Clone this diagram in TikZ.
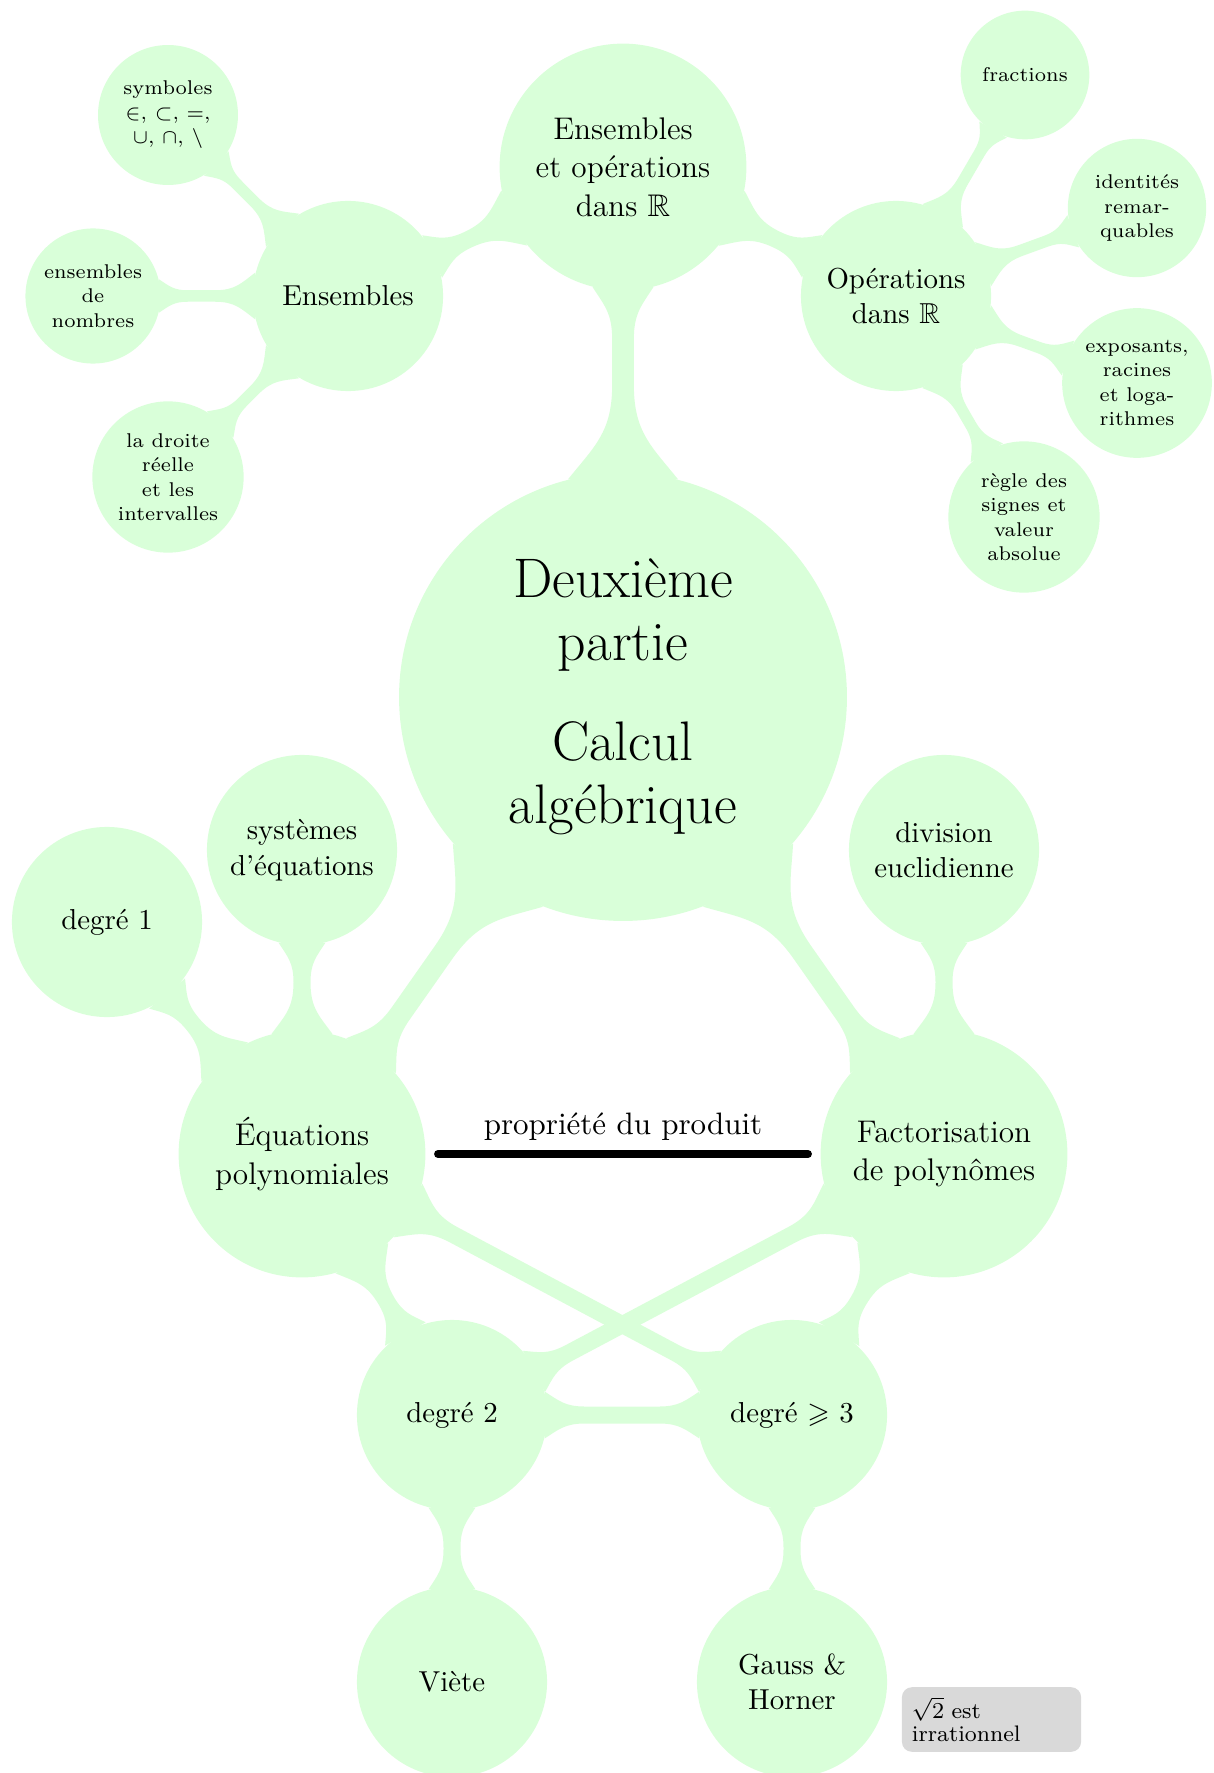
\documentclass[tikz,border=0pt]{standalone}
\usepackage{amssymb}
\usetikzlibrary{calc,backgrounds}
\makeatletter
% connection bar between two circular nodes; optional arg = bar width in px
\newcommand\mmlink[3][17]{%
  \pgfpointdiff{\pgfpointanchor{#2}{center}}{\pgfpointanchor{#3}{center}}%
  \pgfmathsetmacro\mmD{veclen(\the\pgf@x,\the\pgf@y)}%
  \pgfpointdiff{\pgfpointanchor{#2}{center}}{\pgfpointanchor{#2}{east}}%
  \pgfmathsetmacro\mmrA{\the\pgf@x}%
  \pgfpointdiff{\pgfpointanchor{#3}{center}}{\pgfpointanchor{#3}{east}}%
  \pgfmathsetmacro\mmrB{\the\pgf@x}%
  \pgfmathsetmacro\mmh{#1*0.35161/2}%
  \pgfmathsetmacro\mmoA{0.245*\mmrA}%
  \pgfmathsetmacro\mmoB{0.245*\mmrB}%
  \pgfmathsetmacro\mmsA{sqrt(\mmrA*\mmrA-\mmoA*\mmoA)}%
  \pgfmathsetmacro\mmsB{\mmD-sqrt(\mmrB*\mmrB-\mmoB*\mmoB)}%
  \pgfmathsetmacro\mmgap{\mmsB-\mmsA}%
  \pgfmathsetmacro\mmLA{min(0.42*\mmrA,\mmgap*\mmrA/(\mmrA+\mmrB))}%
  \pgfmathsetmacro\mmLB{min(0.42*\mmrB,\mmgap*\mmrB/(\mmrA+\mmrB))}%
  \pgfmathsetmacro\mmcAs{\mmsA+0.35*\mmLA}%
  \pgfmathsetmacro\mmdAs{\mmsA+0.5*\mmLA}%
  \pgfmathsetmacro\mmqAs{\mmsA+\mmLA}%
  \pgfmathsetmacro\mmcAo{\mmoA-0.6*(\mmoA-\mmh)}%
  \pgfmathsetmacro\mmcBs{\mmsB-0.35*\mmLB}%
  \pgfmathsetmacro\mmdBs{\mmsB-0.5*\mmLB}%
  \pgfmathsetmacro\mmqBs{\mmsB-\mmLB}%
  \pgfmathsetmacro\mmcBo{\mmoB-0.6*(\mmoB-\mmh)}%
  \fill[linkfill]
    ($(#2.center)!\mmsA pt!(#3.center)!\mmoA pt!90:(#3.center)$)
    .. controls ($(#2.center)!\mmcAs pt!(#3.center)!\mmcAo pt!90:(#3.center)$)
    and ($(#2.center)!\mmdAs pt!(#3.center)!\mmh pt!90:(#3.center)$)
    .. ($(#2.center)!\mmqAs pt!(#3.center)!\mmh pt!90:(#3.center)$)
    -- ($(#2.center)!\mmqBs pt!(#3.center)!\mmh pt!90:(#3.center)$)
    .. controls ($(#2.center)!\mmdBs pt!(#3.center)!\mmh pt!90:(#3.center)$)
    and ($(#2.center)!\mmcBs pt!(#3.center)!\mmcBo pt!90:(#3.center)$)
    .. ($(#2.center)!\mmsB pt!(#3.center)!\mmoB pt!90:(#3.center)$)
    -- ($(#2.center)!\mmsB pt!(#3.center)!\mmoB pt!-90:(#3.center)$)
    .. controls ($(#2.center)!\mmcBs pt!(#3.center)!\mmcBo pt!-90:(#3.center)$)
    and ($(#2.center)!\mmdBs pt!(#3.center)!\mmh pt!-90:(#3.center)$)
    .. ($(#2.center)!\mmqBs pt!(#3.center)!\mmh pt!-90:(#3.center)$)
    -- ($(#2.center)!\mmqAs pt!(#3.center)!\mmh pt!-90:(#3.center)$)
    .. controls ($(#2.center)!\mmdAs pt!(#3.center)!\mmh pt!-90:(#3.center)$)
    and ($(#2.center)!\mmcAs pt!(#3.center)!\mmcAo pt!-90:(#3.center)$)
    .. ($(#2.center)!\mmsA pt!(#3.center)!\mmoA pt!-90:(#3.center)$)
    -- cycle;
}
\makeatother
\begin{document}
\begin{tikzpicture}[x=0.012356cm, y=-0.012356cm,
  linkfill/.style={fill=green!15},
  cbase/.style={circle, fill=green!15, inner sep=0pt, align=center, text=black},
  rootc/.style={cbase, minimum size=5.536cm, font=\fontsize{19.6}{22.2}\selectfont},
  lvone/.style={cbase, minimum size=3.05cm, font=\fontsize{11}{13.5}\selectfont},
  lvtwo/.style={cbase, minimum size=2.35cm, font=\fontsize{10.15}{12.5}\selectfont},
  lvthree/.style={cbase, font=\fontsize{7}{8.6}\selectfont},
  notebox/.style={rectangle, rounded corners=3.5pt, fill=black!15, inner sep=3.5pt,
    text width=56pt, align=left, font=\fontsize{7.9}{8.3}\selectfont},
  produit/.style={line width=2.7pt, line cap=round, shorten <=4.2pt, shorten >=4.2pt}
]
\useasboundingbox (0,0) rectangle (1214,1773);

% nodes
\node[rootc] (root) at (623,697) {Deuxième\\partie\\[13pt]Calcul\\algébrique};
\node[lvone] (ensop) at (623,167) {Ensembles\\et opérations\\dans $\mathbb{R}$};
\node[lvtwo] (ens) at (348,296) {Ensembles};
\node[lvtwo] (ops) at (896,296) {Opérations\\dans $\mathbb{R}$};
\node[lvthree, minimum size=1.73cm] (sym) at (168,115) {symboles\\$\in$, $\subset$, $=$,\\$\cup$, $\cap$, $\setminus$};
\node[lvthree, minimum size=1.67cm] (nomb) at (93,296) {ensembles\\de\\nombres};
\node[lvthree, minimum size=1.87cm] (droite) at (168,477) {la droite\\réelle\\et les\\intervalles};
\node[lvthree, minimum size=1.59cm] (frac) at (1025,75) {fractions};
\node[lvthree, minimum size=1.71cm] (ident) at (1137,208) {identités\\remar-\\quables};
\node[lvthree, minimum size=1.85cm] (expo) at (1137,383) {exposants,\\racines\\et loga-\\rithmes};
\node[lvthree, minimum size=1.87cm] (regle) at (1024,517) {règle des\\signes et\\valeur\\absolue};
\node[lvone] (eq) at (302,1154) {Équations\\polynomiales};
\node[lvone] (fact) at (944,1154) {Factorisation\\de polynômes};
\node[lvtwo] (deg1) at (107,922) {degré 1};
\node[lvtwo] (sys) at (302,850) {systèmes\\d'équations};
\node[lvtwo] (div) at (944,850) {division\\euclidienne};
\node[lvtwo] (d2) at (452,1415) {degré 2};
\node[lvtwo] (d3) at (792,1415) {degré $\geqslant$ 3};
\node[lvtwo] (viete) at (452,1682) {Viète};
\node[lvtwo] (gauss) at (792,1682) {Gauss \&\\Horner};
\node[notebox] (note) at (991.5,1719.5) {$\sqrt{2}$ est\\irrationnel};

% connections
\begin{scope}[on background layer]
\mmlink[21.7]{root}{ensop}
\mmlink{ensop}{ens}
\mmlink{ensop}{ops}
\mmlink[11.5]{ens}{sym}
\mmlink[11.5]{ens}{nomb}
\mmlink[11.5]{ens}{droite}
\mmlink[11.5]{ops}{frac}
\mmlink[11.5]{ops}{ident}
\mmlink[11.5]{ops}{expo}
\mmlink[11.5]{ops}{regle}
\mmlink[21.7]{root}{eq}
\mmlink[21.7]{root}{fact}
\mmlink{eq}{deg1}
\mmlink{eq}{sys}
\mmlink{eq}{d2}
\mmlink{eq}{d3}
\mmlink{fact}{div}
\mmlink{fact}{d2}
\mmlink{fact}{d3}
\mmlink{d2}{d3}
\mmlink{d2}{viete}
\mmlink{d3}{gauss}
\end{scope}

\draw[produit] (eq) -- node[above, font=\fontsize{10.9}{13}\selectfont] (prodlbl) {propriété du produit} (fact);
\end{tikzpicture}
\end{document}
